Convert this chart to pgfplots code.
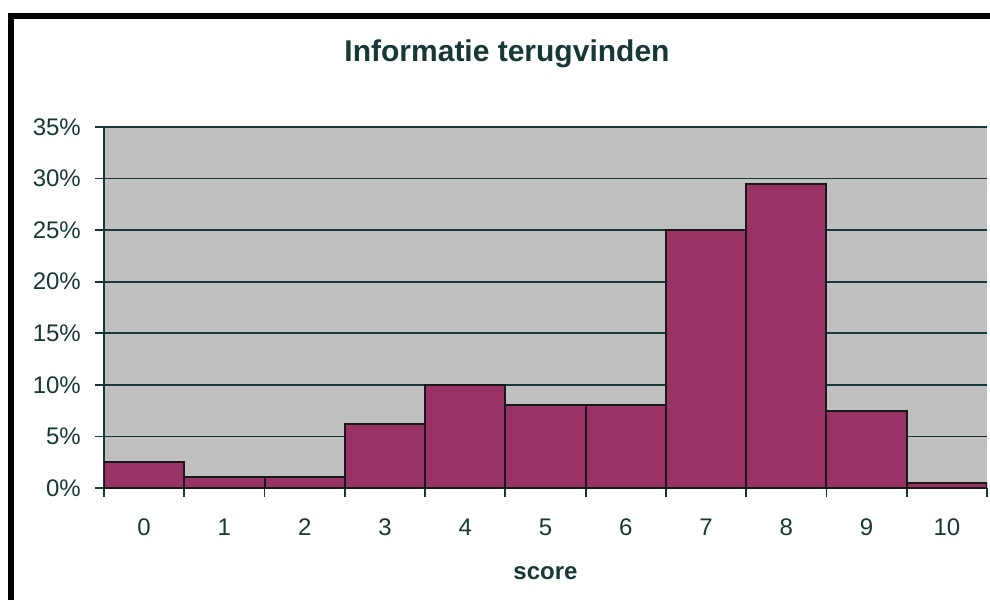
\documentclass[border=0pt]{standalone}
\usepackage{pgfplots}
\pgfplotsset{compat=1.18}
\usepackage{fontspec}
\setmainfont{Liberation Sans}
\definecolor{barc}{RGB}{153,51,102}
\definecolor{plotbg}{RGB}{192,192,192}
\definecolor{ink}{RGB}{24,56,56}
\begin{document}
\begin{tikzpicture}[x=1pt,y=1pt]
\useasboundingbox (0,0) rectangle (990,600);
\fill[white] (0,0) rectangle (990,600);
\draw[black, line width=6pt] (11,0) -- (11,584) -- (990,584);
\begin{axis}[
  at={(104pt,112pt)}, anchor=south west,
  scale only axis, width=883pt, height=361pt,
  xmin=-0.5, xmax=10.5, ymin=0, ymax=35,
  axis background/.style={fill=plotbg},
  axis x line*=bottom, axis y line*=left,
  axis line style={ink, line width=1.8pt, -},
  xtick={0,...,10},
  xticklabels={0,1,2,3,4,5,6,7,8,9,10},
  minor xtick={-0.5,0.5,...,10.5},
  major x tick style={draw=none},
  minor x tick style={ink, line width=1.8pt},
  major y tick style={ink, line width=1.8pt},
  tick align=outside,
  major tick length=9pt, minor tick length=9pt,
  ytick={0,5,...,35},
  yticklabels={0\%,5\%,10\%,15\%,20\%,25\%,30\%,35\%},
  ymajorgrids,
  grid style={ink, line width=1.8pt},
  xticklabel style={font=\fontsize{24}{28}\selectfont, text=ink, anchor=base, inner sep=0pt, yshift=-38pt},
  yticklabel style={font=\fontsize{24}{28}\selectfont, text=ink, anchor=east, inner sep=0pt, xshift=-14pt},
  title={Informatie terugvinden},
  title style={font=\bfseries\fontsize{30}{36}\selectfont, text=ink, at={(axis description cs:0.4564,1.165)}, anchor=base},
  xlabel={score},
  xlabel style={font=\bfseries\fontsize{24}{28}\selectfont, text=ink, at={(axis description cs:0.5,-0.2548)}, anchor=base},
]
\addplot[ybar, bar width=1, fill=barc, draw=black!90, line width=2pt]
  coordinates {(0,2.5) (1,1.1) (2,1.1) (3,6.2) (4,10) (5,8) (6,8) (7,25) (8,29.5) (9,7.5) (10,0.5)};
\end{axis}
\end{tikzpicture}
\end{document}
